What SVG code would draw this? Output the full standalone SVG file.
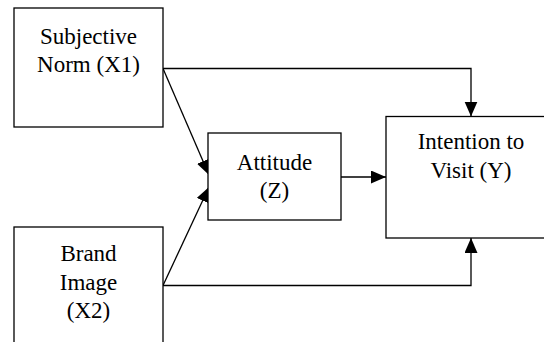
<svg xmlns="http://www.w3.org/2000/svg" width="544" height="342" viewBox="0 0 544 342">
<style>
.box{fill:#fff;stroke:#000;stroke-width:1.3}
.conn{fill:none;stroke:#000;stroke-width:1.3}
text{font-family:"Liberation Serif","Times New Roman",serif;font-size:23px;fill:#000;text-anchor:middle}
</style>
<defs>
<marker id="arr" markerUnits="userSpaceOnUse" markerWidth="16" markerHeight="14" refX="15" refY="6.5" orient="auto">
<path d="M0,0 L15,6.5 L0,13 z" fill="#000"/>
</marker>
</defs>
<rect width="544" height="342" fill="#fff"/>
<g id="connectors">
<path class="conn" d="M163,68.5 H471 V116.5" marker-end="url(#arr)"/>
<path class="conn" d="M163,68.5 L209,175" marker-end="url(#arr)"/>
<path class="conn" d="M163,285.5 L209,187" marker-end="url(#arr)"/>
<path class="conn" d="M163,285.5 H471 V238" marker-end="url(#arr)"/>
<path class="conn" d="M341,177 H386" marker-end="url(#arr)"/>
</g>
<g id="x1">
<rect class="box" x="14" y="8" width="149" height="119"/>
<text x="88.5" y="43.5">Subjective</text>
<text x="88.5" y="72">Norm (X1)</text>
</g>
<g id="x2">
<rect class="box" x="14" y="227" width="149" height="130"/>
<text x="88.5" y="261">Brand</text>
<text x="88.5" y="290">Image</text>
<text x="88.5" y="318">(X2)</text>
</g>
<g id="z">
<rect class="box" x="208" y="133" width="133" height="87"/>
<text x="274.5" y="169.5">Attitude</text>
<text x="274.5" y="198">(Z)</text>
</g>
<g id="y">
<rect class="box" x="386" y="116.5" width="170" height="121.5"/>
<text x="471" y="149">Intention to</text>
<text x="471" y="178">Visit (Y)</text>
</g>
</svg>
